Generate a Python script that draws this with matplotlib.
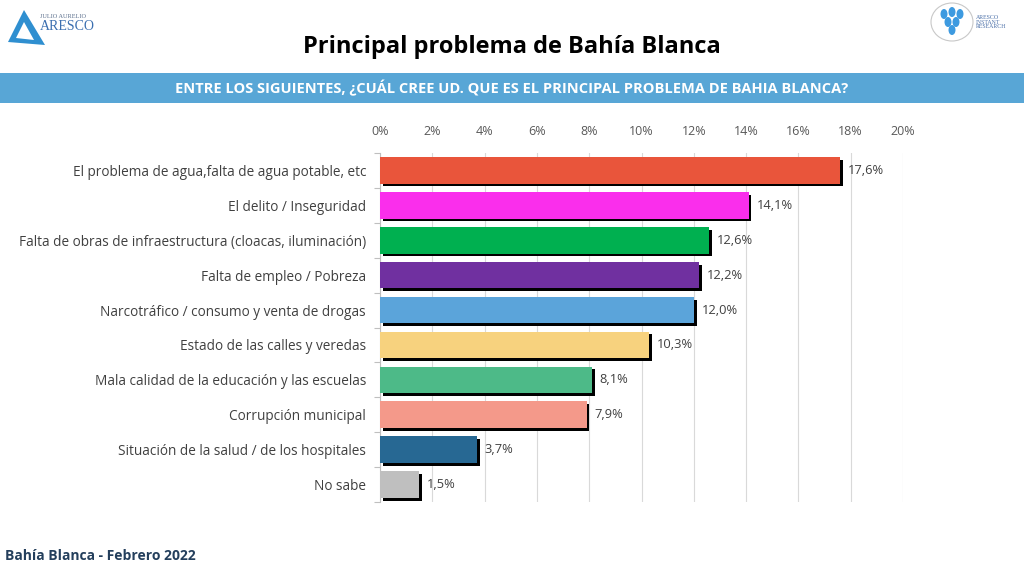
import matplotlib.pyplot as plt
import matplotlib.patheffects as pe
from matplotlib.patches import Polygon, Ellipse, Rectangle
import numpy as np

plt.rcParams['font.family'] = ['Open Sans', 'DejaVu Sans']

categories = [
    'El problema de agua,falta de agua potable, etc',
    'El delito / Inseguridad',
    'Falta de obras de infraestructura (cloacas, iluminación)',
    'Falta de empleo / Pobreza',
    'Narcotráfico / consumo y venta de drogas',
    'Estado de las calles y veredas',
    'Mala calidad de la educación y las escuelas',
    'Corrupción municipal',
    'Situación de la salud / de los hospitales',
    'No sabe',
]
values = [17.6, 14.1, 12.6, 12.2, 12.0, 10.3, 8.1, 7.9, 3.7, 1.5]
colors = ['#E9553B', '#FA2EEC', '#00B050', '#7030A0', '#5BA4DA',
          '#F7D27E', '#4DBA88', '#F4998A', '#276893', '#BFBFBF']
ticks = [0, 2, 4, 6, 8, 10, 12, 14, 16, 18, 20]

fig = plt.figure(figsize=(10.24, 5.68), dpi=100)
fig.patch.set_facecolor('white')

# header band and titles
fig.add_artist(Rectangle((0, 1 - 103 / 568), 1, 30 / 568, transform=fig.transFigure,
                         facecolor='#58A6D6', edgecolor='none'))
fig.text(0.5, 1 - 47 / 568, 'Principal problema de Bahía Blanca', ha='center', va='center',
         fontsize=17, fontweight='bold', color='black')
fig.text(0.5, 1 - 88 / 568,
         'ENTRE LOS SIGUIENTES, ¿CUÁL CREE UD. QUE ES EL PRINCIPAL PROBLEMA DE BAHIA BLANCA?',
         ha='center', va='center', fontsize=10.5, fontweight='bold', color='white')
fig.text(5 / 1024, 1 - 556 / 568, 'Bahía Blanca - Febrero 2022', ha='left', va='center',
         fontsize=10, fontweight='bold', color='#243F5C')

# left logo (rough)
fig.add_artist(Polygon([(8 / 1024, 1 - 42 / 568), (24 / 1024, 1 - 10 / 568), (45 / 1024, 1 - 45 / 568)],
                       closed=True, transform=fig.transFigure, facecolor='#2F8FD0', edgecolor='none'))
fig.add_artist(Polygon([(16 / 1024, 1 - 38 / 568), (24 / 1024, 1 - 22 / 568), (34 / 1024, 1 - 40 / 568)],
                       closed=True, transform=fig.transFigure, facecolor='white', edgecolor='none'))
fig.text(40 / 1024, 1 - 17 / 568, 'JULIO AURELIO', fontsize=4.5, color='#5A6E8C',
         family=['Liberation Serif'], ha='left', va='center')
fig.text(40 / 1024, 1 - 27 / 568, 'ARESCO', fontsize=10, color='#3B6FB0',
         family=['Liberation Serif'], ha='left', va='center')

# right logo (rough)
fig.add_artist(Ellipse((952 / 1024, 1 - 22 / 568), 42 / 1024, 38 / 568, transform=fig.transFigure,
                       facecolor='none', edgecolor='#C8C8C8', lw=0.8))
for dx, dy in [(-8, -6), (0, -8), (8, -6), (-4, 2), (4, 2), (0, 10)]:
    fig.add_artist(Ellipse(((952 + dx) / 1024, 1 - (20 + dy) / 568), 7 / 1024, 10 / 568,
                           transform=fig.transFigure, facecolor='#3D9AE0', edgecolor='none'))
fig.text(976 / 1024, 1 - 22 / 568, 'ARESCO\nINSTANT\nRESEARCH', fontsize=4.2, color='#4A6FA8',
         family=['Liberation Serif'], ha='left', va='center', linespacing=0.9)

ax = fig.add_axes([380 / 1024, 1 - 502 / 568, 523 / 1024, 349 / 568])
y = np.arange(len(categories))
bars = ax.barh(y, values, height=0.76, color=colors, edgecolor='none', zorder=3)
for b in bars:
    b.set_path_effects([pe.SimplePatchShadow(offset=(2, -2), shadow_rgbFace='black', alpha=1),
                        pe.Normal()])
for yi, v in zip(y, values):
    ax.text(v + 0.3, yi, f'{v:.1f}%'.replace('.', ','), ha='left', va='center',
            fontsize=9.3, color='#404040')

ax.set_ylim(len(categories) - 0.5, -0.5)
ax.set_xlim(0, 20)
ax.set_xticks(ticks)
ax.set_xticklabels([f'{t}%' for t in ticks])
ax.xaxis.tick_top()
ax.tick_params(axis='x', length=0, labelsize=9, labelcolor='#595959', pad=11)
ax.set_yticks(y)
ax.set_yticklabels(categories)
ax.tick_params(axis='y', length=0, labelsize=9.8, labelcolor='#404040', pad=10)
ax.set_yticks(np.arange(-0.5, len(categories), 1), minor=True)
ax.tick_params(axis='y', which='minor', length=4, color='#BFBFBF', width=0.8)
ax.grid(axis='x', color='#D9D9D9', lw=0.8, zorder=0)
for s in ['top', 'right', 'bottom']:
    ax.spines[s].set_visible(False)
ax.spines['left'].set_color('#BFBFBF')
ax.spines['left'].set_linewidth(0.8)

fig.savefig('out.png', dpi=100)
